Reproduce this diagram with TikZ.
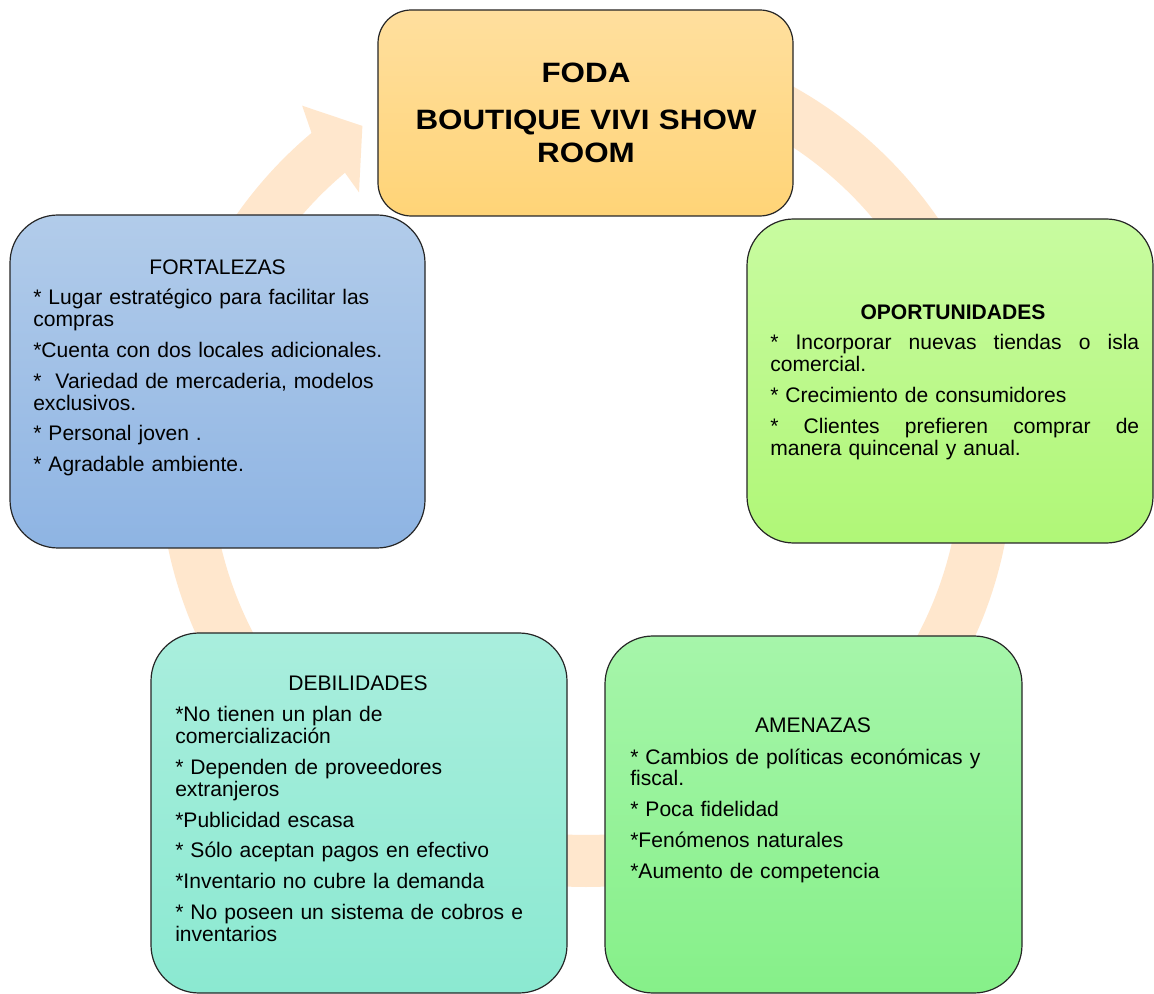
\documentclass[tikz,border=0pt]{standalone}
\usepackage{fontspec}
\setmainfont{Liberation Sans}
\newfontfamily\titlefont[FakeStretch=1.12]{Liberation Sans}
\usepackage{tikz}
\usetikzlibrary{positioning}
\usepackage{xcolor}
\definecolor{ringpeach}{HTML}{FFE7CD}
\definecolor{fodatop}{HTML}{FFDF9E}
\definecolor{fodabot}{HTML}{FFD477}
\definecolor{fortop}{HTML}{B2CCEA}
\definecolor{forbot}{HTML}{8EB4E3}
\definecolor{opotop}{HTML}{C8FBA0}
\definecolor{opobot}{HTML}{B0F777}
\definecolor{debtop}{HTML}{A9EEDD}
\definecolor{debbot}{HTML}{8BE9D1}
\definecolor{amtop}{HTML}{A6F5AA}
\definecolor{ambot}{HTML}{86F089}

\begin{document}
\begin{tikzpicture}[x=0.75pt, y=-0.75pt,
    box/.style={draw=black!85, line width=0.9pt, rounded corners=#1, inner sep=0pt},
    headtext/.style={font=\fontsize{15.8}{16.5}\selectfont, anchor=base, inner sep=0pt},
    itemtext/.style={font=\fontsize{15.8}{16.5}\selectfont, anchor=base west, inner sep=0pt, align=left, text width=#1}]
  \useasboundingbox[fill=white] (0,0) rectangle (1154,994);
  % cycle arrow behind the boxes
  \coordinate (ringc) at (586,460);
  \draw[ringpeach, line width=39pt] (ringc) ++(-90:401) arc[start angle=-90, end angle=230.5, radius=401];
  \fill[ringpeach, shift={(ringc)}] (-130:427) -- (-128.7:454) -- (-123.8:402) -- (-130.3:351) -- (-130:375) -- cycle;
  % boxes
  \node[box=36pt, top color=fortop, bottom color=forbot, minimum width=311.25pt, minimum height=249.75pt] (fortalezas) at (217.5,381.5) {};
  \node[box=25pt, top color=fodatop, bottom color=fodabot, minimum width=311.25pt, minimum height=154.5pt] (foda) at (585.5,113) {};
  \node[box=35pt, top color=opotop, bottom color=opobot, minimum width=304.5pt, minimum height=243pt] (oportunidades) at (950,381) {};
  \node[box=36pt, top color=debtop, bottom color=debbot, minimum width=312pt, minimum height=270pt] (debilidades) at (359,813) {};
  \node[box=36pt, top color=amtop, bottom color=ambot, minimum width=312.75pt, minimum height=267.75pt] (amenazas) at (813.5,814.5) {};
  % texts
  \node[font=\titlefont\bfseries\fontsize{21}{24.75}\selectfont, anchor=base, inner sep=0pt, align=center, text width=300pt] (fodatitle) at (586,83)
    {FODA\\[10.5pt] BOUTIQUE VIVI SHOW\\ ROOM};
  \node[headtext] (fortitle) at (217.5,275) {FORTALEZAS};
  \node[itemtext=280pt] (forlist) at (33,305)
    {* Lugar estratégico para facilitar las\\ compras\\[6.5pt]
     *Cuenta con dos locales adicionales.\\[6.5pt]
     *\ \ Variedad de mercaderia, modelos\\ exclusivos.\\[6.5pt]
     * Personal joven .\\[6.5pt]
     * Agradable ambiente.};
  \node[headtext, font=\fontsize{15.8}{16.5}\selectfont\bfseries] (opotitle) at (953,320) {OPORTUNIDADES};
  \node[itemtext=276.75pt] (opolist) at (770,350)
    {\makebox[276.75pt][l]{*\hfill Incorporar\hfill nuevas\hfill tiendas\hfill o\hfill isla}\\ comercial.\\[6.5pt]
     * Crecimiento de consumidores\\[6.5pt]
     \makebox[276.75pt][l]{*\hfill Clientes\hfill prefieren\hfill comprar\hfill de}\\ manera quincenal y anual.};
  \node[headtext] (debtitle) at (358,691) {DEBILIDADES};
  \node[itemtext=280pt] (deblist) at (175,722)
    {*No tienen un plan de\\ comercialización\\[6.5pt]
     * Dependen de proveedores\\ extranjeros\\[6.5pt]
     *Publicidad escasa\\[6.5pt]
     * Sólo aceptan pagos en efectivo\\[6.5pt]
     *Inventario no cubre la demanda\\[6.5pt]
     * No poseen un sistema de cobros e\\ inventarios};
  \node[headtext] (amtitle) at (813,733) {AMENAZAS};
  \node[itemtext=280pt] (amlist) at (630,764)
    {* Cambios de políticas económicas y\\ fiscal.\\[6.5pt]
     * Poca fidelidad\\[6.5pt]
     *Fenómenos naturales\\[6.5pt]
     *Aumento de competencia};
\end{tikzpicture}
\end{document}
